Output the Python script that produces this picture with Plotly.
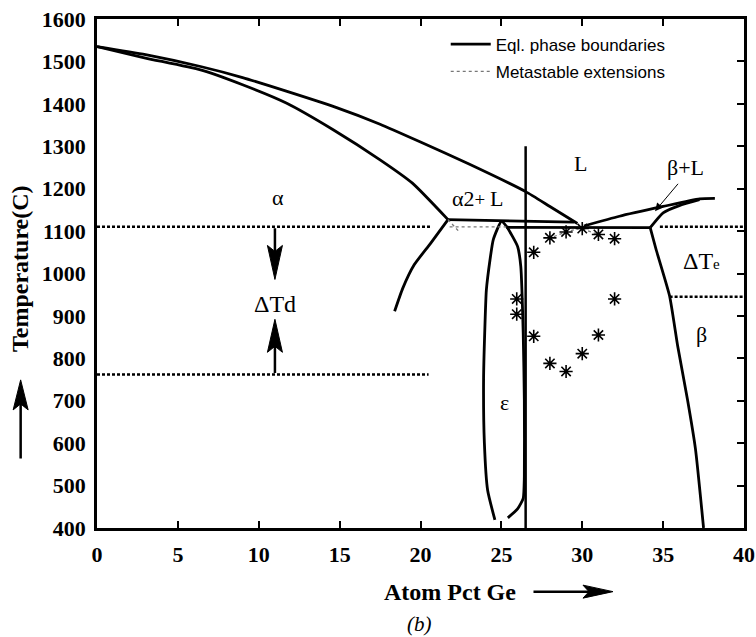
import plotly.graph_objects as go

# ---------------- data ----------------
liq_x = [0, 3, 6.4, 9, 11.7, 14.6, 17.5, 20, 23, 26.5, 28, 29.7]
liq_T = [1535, 1516, 1488, 1462, 1430, 1394, 1352, 1310, 1258, 1193, 1158, 1118]

sol_x = [0, 3, 6.4, 9, 11.7, 14.6, 17.5, 19.5, 21.7]
sol_T = [1535, 1508, 1480, 1445, 1402, 1339, 1268, 1213, 1127]

solv_x = [21.7, 20.6, 19.6, 18.9, 18.4]
solv_T = [1127, 1070, 1020, 965, 911]

peri_x = [21.7, 29.5]
peri_T = [1127, 1121]

eut_x = [25.3, 34.2]
eut_T = [1109, 1108]

eps_x = [24.6, 24.15, 23.95, 23.9, 23.97, 24.07, 24.3, 24.5, 25.0, 25.3, 26.0, 26.2,
         26.35, 26.42, 26.42, 26.35, 26.0, 25.4]
eps_T = [419, 489, 600, 750, 860, 960, 1033, 1080, 1123, 1112, 1064, 1017,
         860, 700, 520, 470, 445, 424]

vert_x = [26.5, 26.5]
vert_T = [1300, 400]

bl_up_x = [30.1, 32.3, 35.0, 37.25, 38.2]
bl_up_T = [1112, 1135, 1158, 1176, 1177]

bl_lo_x = [34.2, 35.0, 36.0, 37.25]
bl_lo_T = [1108, 1143, 1160, 1174]

beta_x = [34.2, 34.57, 35.4, 35.9, 36.5, 37.0, 37.5]
beta_T = [1108, 1056, 947, 829, 704, 586, 400]

meta1_x = [21.8, 25.3]
meta1_T = [1110, 1110]
meta2_x = [21.7, 22.4]
meta2_T = [1127, 1098]
meta3_x = [27.9, 29.0, 29.9, 31.0]
meta3_T = [1082, 1098, 1107, 1092]

stars_x = [25.95, 25.95, 27, 27, 28, 28, 29, 29, 30, 30, 31, 31, 32, 32]
stars_T = [940, 904, 1050, 852, 1084, 788, 1098, 769, 1106, 811, 1092, 855, 1082, 940]

td_upper_x = [0, 20.7]
td_upper_T = [1110, 1110]
te_upper_x = [34.8, 40]
te_upper_T = [1110, 1110]
td_lower_x = [0, 20.5]
td_lower_T = [762, 762]
te_lower_x = [35.4, 40]
te_lower_T = [945, 945]

x_ticks = [0, 5, 10, 15, 20, 25, 30, 35, 40]
y_ticks = [400, 500, 600, 700, 800, 900, 1000, 1100, 1200, 1300, 1400, 1500, 1600]

# ---------------- figure ----------------
SERIF = "Liberation Serif"
SANS = "Liberation Sans"
fig = go.Figure()

solid = dict(color="black", width=2.8)
eq_curves = [(liq_x, liq_T), (sol_x, sol_T), (solv_x, solv_T), (peri_x, peri_T),
             (eut_x, eut_T), (eps_x, eps_T), (bl_up_x, bl_up_T), (bl_lo_x, bl_lo_T),
             (beta_x, beta_T)]
for i, (xs, ts) in enumerate(eq_curves):
    fig.add_trace(go.Scatter(x=xs, y=ts, mode="lines",
                             line=dict(solid, shape="spline", smoothing=0.5),
                             name="Eql. phase boundaries", legendgroup="eq",
                             showlegend=(i == 0), hoverinfo="skip"))

fig.add_trace(go.Scatter(x=vert_x, y=vert_T, mode="lines", line=dict(color="black", width=2.5),
                         showlegend=False, hoverinfo="skip"))

meta = dict(color="#777777", width=1.3, dash="dot")
for i, (xs, ts) in enumerate([(meta1_x, meta1_T), (meta2_x, meta2_T), (meta3_x, meta3_T)]):
    fig.add_trace(go.Scatter(x=xs, y=ts, mode="lines", line=meta,
                             name="Metastable extensions", legendgroup="meta",
                             showlegend=(i == 0), hoverinfo="skip"))

dashed = dict(color="black", width=2.5, dash="3px,2px")
for xs, ts in [(td_upper_x, td_upper_T), (te_upper_x, te_upper_T),
               (td_lower_x, td_lower_T), (te_lower_x, te_lower_T)]:
    fig.add_trace(go.Scatter(x=xs, y=ts, mode="lines", line=dashed,
                             showlegend=False, hoverinfo="skip"))

fig.add_trace(go.Scatter(x=stars_x, y=stars_T, mode="markers",
                         marker=dict(symbol="asterisk-open", size=11, color="black",
                                     line=dict(color="black", width=1.6)),
                         showlegend=False, hoverinfo="skip"))

# empty trace that carries the right-hand tick marks
fig.add_trace(go.Scatter(x=[None], y=[None], yaxis="y2", showlegend=False, hoverinfo="skip"))

# ---------------- labels ----------------
def lab(x, y, text, size=22):
    fig.add_annotation(x=x, y=y, xref="x", yref="y", text=text, showarrow=False,
                       xanchor="center", yanchor="middle",
                       font=dict(family=SERIF, size=size, color="black"))

lab(11.2, 1179, "α")
lab(11.0, 927, "ΔTd", 24)
lab(29.9, 1260, "L")
lab(23.5, 1178, "α2<span style='font-size:19px'>+ </span>L")
lab(36.4, 1249, "β+L")
lab(37.35, 1029, "ΔT<span style='font-size:15px'>e</span>", 24)
lab(37.4, 856, "β")
lab(25.2, 696, "ε")

# arrows (shaft as annotation, head as pixel-sized path)
def shaft(x, y, ax, ay, xref, yref, standoff):
    if xref == "x":
        fig.add_annotation(x=x, y=y, ax=ax, ay=ay, xref="x", yref="y", axref="x", ayref="y",
                           text="", showarrow=True, arrowhead=0, arrowwidth=2.5,
                           arrowcolor="black", standoff=standoff)
    else:
        fig.add_annotation(x=x, y=y, ax=ax, ay=ay, xref="paper", yref="paper",
                           text="", showarrow=True, arrowhead=0, arrowwidth=2.5,
                           arrowcolor="black", standoff=standoff)

def head(x, y, xref, yref, path):
    fig.add_shape(type="path", xref=xref, yref=yref, xsizemode="pixel", ysizemode="pixel",
                  xanchor=x, yanchor=y, path=path, fillcolor="black",
                  line=dict(color="black", width=1))

# Delta Td arrows
shaft(11, 986, 11, 1110, "x", "y", 20)
head(11, 986, "x", "y", "M-7.5,34 L0,0 L7.5,34 L0,28 Z")
shaft(11, 892, 11, 762, "x", "y", 20)
head(11, 892, "x", "y", "M-7.5,-33 L0,0 L7.5,-33 L0,-27 Z")

# beta+L pointer
fig.add_annotation(x=34.5, y=1147, ax=36.0, ay=1215, xref="x", yref="y", axref="x", ayref="y",
                   text="", showarrow=True, arrowhead=2, arrowwidth=1, arrowsize=1.6,
                   arrowcolor="black")

# axis-title arrows
shaft(-0.118, 0.291, 0, 80, "paper", "paper", 20)
head(-0.118, 0.291, "paper", "paper", "M-7.5,-30 L0,0 L7.5,-30 L0,-24 Z")
shaft(0.7975, -0.125, -81, 0, "paper", "paper", 20)
head(0.7975, -0.125, "paper", "paper", "M-30,-6.5 L0,0 L-30,6.5 L-24,0 Z")

# axis titles
fig.add_annotation(x=-0.118, y=0.51, xref="paper", yref="paper", text="<b>Temperature(C)</b>",
                   textangle=-90, showarrow=False, xanchor="center", yanchor="middle",
                   font=dict(family=SERIF, size=24, color="black"))
fig.add_annotation(x=0.545, y=-0.125, xref="paper", yref="paper", text="<b>Atom Pct Ge</b>",
                   showarrow=False, xanchor="center", yanchor="middle",
                   font=dict(family=SERIF, size=24, color="black"))
fig.add_annotation(x=0.498, y=-0.189, xref="paper", yref="paper", text="<i>(b)</i>",
                   showarrow=False, xanchor="center", yanchor="middle",
                   font=dict(family=SERIF, size=21, color="black"))

axis_common = dict(showgrid=False, zeroline=False, showline=True, linecolor="black", linewidth=2.5,
                   tickcolor="black", tickwidth=2, ticklen=7,
                   tickfont=dict(family=SERIF, size=22, color="black", weight="bold"))

fig.update_layout(
    width=756, height=637,
    margin=dict(l=97, r=12, t=19, b=109, autoexpand=False),
    paper_bgcolor="white", plot_bgcolor="white",
    showlegend=True,
    legend=dict(x=0.539, y=0.985, xanchor="left", yanchor="top", bgcolor="rgba(0,0,0,0)",
                font=dict(family=SANS, size=17, color="black"), itemwidth=40, tracegroupgap=2),
    xaxis=dict(range=[0, 40], tickvals=x_ticks, ticks="inside", mirror="ticks",
               ticklabelstandoff=5, automargin=False, **axis_common),
    yaxis=dict(range=[400, 1600], tickvals=y_ticks, ticks="", mirror=True,
               ticklabelstandoff=4, automargin=False, **axis_common),
    yaxis2=dict(range=[400, 1600], tickvals=y_ticks, ticks="inside", overlaying="y", side="right",
                showticklabels=False, showgrid=False, zeroline=False, showline=False,
                automargin=False, tickcolor="black", tickwidth=2, ticklen=7),
)

fig.write_html("out.html", config={"displayModeBar": False},
               post_script="document.body.style.margin='0px';document.body.style.overflow='hidden';")
